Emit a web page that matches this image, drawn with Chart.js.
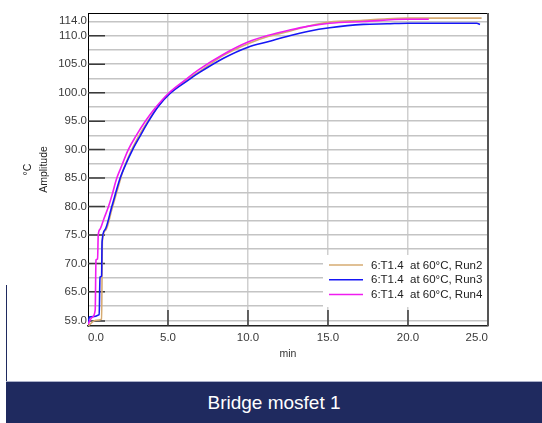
<!DOCTYPE html>
<html>
<head>
<meta charset="utf-8">
<script src="https://cdn.jsdelivr.net/npm/chart.js@4.4.1/dist/chart.umd.min.js"></script>
<style>
  body { margin: 0; background: #fff; width: 542px; height: 423px; overflow: hidden; position: relative; font-family: "Liberation Sans", Arial, sans-serif; }
  #wrap { position: absolute; left: 0; top: 0; width: 542px; height: 380px; }
  #edge { position: absolute; left: 6px; top: 285px; width: 1px; height: 97px; background: #1f2a5f; }
  #banner { position: absolute; left: 6px; top: 381px; width: 536px; height: 42px; background: #1f2a5f; border-top: 1px solid #aab0c8; box-sizing: border-box; color: #fff; font-size: 19px; display: flex; align-items: center; justify-content: center; }
</style>
</head>
<body>
<div id="wrap"><canvas id="amp-chart" width="542" height="380"></canvas></div>
<div id="edge"></div>
<div id="banner">Bridge mosfet 1</div>
<script>
// Run2 (tan)
const run2Time = [0, 0.5, 0.85, 0.9, 1.1, 1.5, 2.0, 2.2, 2.7, 3.2, 3.7, 4.3, 5.05, 6.1, 7.0, 8.5, 10.0, 11.3, 12.6, 13.8, 15.1, 17.2, 18.7, 20.0, 24.6];
const run2Temp = [59.0, 60.0, 60.2, 74.0, 75.8, 79.6, 84.5, 86.4, 89.8, 92.5, 94.8, 97.3, 99.8, 102.1, 103.8, 106.6, 108.6, 109.9, 110.8, 111.7, 112.4, 112.7, 113.0, 113.1, 113.1];
// Run3 (blue)
const run3Time = [0, 0.1, 0.7, 0.75, 0.85, 0.88, 1.06, 1.48, 2.0, 2.25, 2.79, 3.3, 3.77, 4.4, 5.13, 6.27, 7.0, 8.5, 10.0, 11.3, 12.6, 13.8, 15.1, 17.2, 18.7, 20.0, 24.3, 24.5];
const run3Temp = [59.5, 60.6, 61.0, 67.6, 67.8, 73.8, 75.9, 79.9, 84.9, 86.7, 90.0, 92.6, 94.9, 97.6, 99.85, 102.2, 103.6, 106.1, 108.0, 109.0, 110.0, 110.8, 111.4, 112.0, 112.1, 112.2, 112.2, 112.0];
// Run4 (magenta)
const run4Time = [0, 0.25, 0.45, 0.5, 0.6, 0.64, 0.75, 1.0, 1.27, 1.5, 1.79, 2.04, 2.52, 3.0, 3.56, 4.2, 5.02, 6.06, 6.9, 8.5, 10.0, 11.3, 12.6, 13.8, 15.1, 17.2, 19.9, 21.3];
const run4Temp = [59.3, 60.5, 61.8, 70.6, 70.8, 75.0, 76.0, 77.9, 79.9, 82.0, 84.9, 86.7, 90.0, 92.4, 94.9, 97.3, 99.85, 102.2, 104.0, 106.8, 108.9, 110.1, 111.0, 111.7, 112.2, 112.5, 112.9, 112.9];

const seriesLabels = ['6:T1.4  at 60°C, Run2', '6:T1.4  at 60°C, Run3', '6:T1.4  at 60°C, Run4'];
const seriesColors = ['#d6ab72', '#1616f5', '#f01cf0'];

const yMin = 59, yMax = 114;
const yTicks = [59, 60, 62.5, 65, 67.5, 70, 72.5, 75, 77.5, 80, 82.5, 85, 87.5, 90, 92.5, 95, 97.5, 100, 102.5, 105, 107.5, 110, 112.5, 114];
const yMajor = [65, 70, 75, 80, 85, 90, 95, 100, 105, 110];
const xMin = 0, xMax = 25;
const xMajor = [5, 10, 15, 20];

const fontFamily = "'Liberation Sans', Arial, sans-serif";

function pts(ts, vs) {
    return ts.map(function(t, i) { return { x: t, y: vs[i] }; });
}

const extras = {
    id: 'extras',
    beforeDatasetsDraw: function(chart) {
        const c = chart.ctx, a = chart.chartArea;
        const xs = chart.scales.x, ys = chart.scales.y;
        c.save();
        c.strokeStyle = '#3a3a3a';
        c.lineWidth = 1.5;
        c.beginPath();
        yMajor.forEach(function(v) {
            const y = ys.getPixelForValue(v);
            c.moveTo(a.left, y); c.lineTo(a.left + 17, y);
        });
        const y59 = ys.getPixelForValue(yMin) - 5;
        c.moveTo(a.left, y59); c.lineTo(a.left + 17, y59);
        xMajor.forEach(function(v) {
            const x = xs.getPixelForValue(v);
            c.moveTo(x, a.bottom); c.lineTo(x, a.bottom - 16);
        });
        c.stroke();
        c.restore();
    },
    afterDraw: function(chart) {
        const c = chart.ctx, a = chart.chartArea;
        const ys = chart.scales.y;
        c.save();
        // top and right frame
        c.strokeStyle = '#000';
        c.lineWidth = 1;
        c.beginPath();
        c.moveTo(a.left, a.top + 0.5); c.lineTo(a.right, a.top + 0.5);
        c.stroke();
        c.strokeStyle = '#555';
        c.lineWidth = 2;
        c.beginPath();
        c.moveTo(a.right, a.top); c.lineTo(a.right, a.bottom);
        c.stroke();
        // end labels of y axis
        c.fillStyle = '#3a3a3a';
        c.font = '11.5px ' + fontFamily;
        c.textAlign = 'right';
        c.textBaseline = 'middle';
        c.fillText(yMax.toFixed(1), a.left - 1, ys.getPixelForValue(yMax) + 8);
        c.fillText(yMin.toFixed(1), a.left - 1, ys.getPixelForValue(yMin) - 5);
        // legend
        c.fillStyle = '#fff';
        c.fillRect(323, 255, a.right - 324, 52);
        c.textAlign = 'left';
        chart.data.datasets.forEach(function(ds, i) {
            const y = 265 + i * 14.7;
            c.strokeStyle = ds.borderColor;
            c.lineWidth = 1.5;
            c.beginPath();
            c.moveTo(329, y); c.lineTo(363, y);
            c.stroke();
            c.fillStyle = '#222';
            c.fillText(ds.label, 371, y + 0.5);
        });
        c.restore();
    }
};

const ctx = document.getElementById('amp-chart').getContext('2d');
new Chart(ctx, {
    type: 'line',
    data: {
        datasets: [
            { label: seriesLabels[0], data: pts(run2Time, run2Temp), borderColor: seriesColors[0], order: 3 },
            { label: seriesLabels[1], data: pts(run3Time, run3Temp), borderColor: seriesColors[1], order: 2 },
            { label: seriesLabels[2], data: pts(run4Time, run4Temp), borderColor: seriesColors[2], order: 1 }
        ]
    },
    options: {
        responsive: false,
        animation: false,
        devicePixelRatio: 1,
        layout: { padding: { top: 13, right: 54, left: 0, bottom: 0 } },
        elements: {
            point: { radius: 0 },
            line: { borderWidth: 1.6, cubicInterpolationMode: 'monotone', fill: false }
        },
        plugins: {
            legend: { display: false },
            tooltip: { enabled: false }
        },
        scales: {
            x: {
                type: 'linear',
                min: xMin,
                max: xMax,
                afterFit: function(s) { s.height = 54; },
                ticks: {
                    stepSize: 5,
                    align: 'inner',
                    padding: 5,
                    color: '#3a3a3a',
                    font: { family: fontFamily, size: 11.5 },
                    callback: function(v) { return Number(v).toFixed(1); }
                },
                grid: {
                    drawTicks: false,
                    lineWidth: 1.5,
                    color: function(c) {
                        const v = c.tick ? c.tick.value : null;
                        return (v === xMin || v === xMax) ? 'rgba(0,0,0,0)' : '#cfcfcf';
                    }
                },
                border: { display: true, color: '#222', width: 1.5 },
                title: {
                    display: true,
                    text: 'min',
                    color: '#333',
                    font: { family: fontFamily, size: 10.5 },
                    padding: { top: 0, bottom: 20 }
                }
            },
            y: {
                min: yMin,
                max: yMax,
                afterFit: function(s) { s.width = 88; },
                afterBuildTicks: function(s) {
                    s.ticks = yTicks.map(function(v) { return { value: v }; });
                },
                ticks: {
                    padding: 1,
                    autoSkip: false,
                    color: '#3a3a3a',
                    font: { family: fontFamily, size: 11.5 },
                    callback: function(v) {
                        return yMajor.indexOf(v) >= 0 ? Number(v).toFixed(1) : '';
                    }
                },
                grid: {
                    drawTicks: false,
                    lineWidth: 1.5,
                    color: function(c) {
                        const v = c.tick ? c.tick.value : null;
                        return (v === yMin || v === yMax) ? 'rgba(0,0,0,0)' : '#c4c4c4';
                    }
                },
                border: { display: true, color: '#000', width: 1 },
                title: {
                    display: true,
                    text: ['°C', 'Amplitude'],
                    color: '#222',
                    font: { family: fontFamily, size: 10.5, lineHeight: 1.55 },
                    padding: { top: 20, bottom: 0 }
                }
            }
        }
    },
    plugins: [extras]
});
</script>
</body>
</html>
